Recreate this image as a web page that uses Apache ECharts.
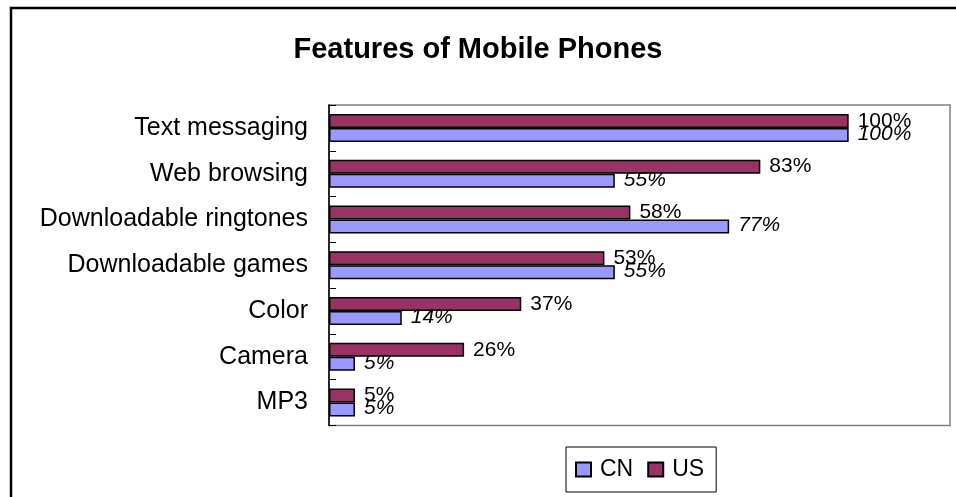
<!DOCTYPE html>
<html>
<head>
<meta charset="utf-8">
<script src="https://cdn.jsdelivr.net/npm/echarts@6/dist/echarts.min.js"></script>
<style>html,body{margin:0;padding:0;background:#fff}#c{width:956px;height:497px}</style>
</head>
<body>
<div id="c"></div>
<script>
// bottom-to-top order
var categories = ['MP3', 'Camera', 'Color', 'Downloadable games', 'Downloadable ringtones', 'Web browsing', 'Text messaging'];
var cnValues = [5, 5, 14, 55, 77, 55, 100];
var usValues = [5, 26, 37, 53, 58, 83, 100];
var titleText = 'Features of Mobile Phones';

var chart = echarts.init(document.getElementById('c'), null, {renderer: 'canvas'});
var F = 'Arial, "Liberation Sans", sans-serif';
chart.setOption({
  animation: false,
  backgroundColor: '#fff',
  title: {
    text: titleText, left: 'center', top: 30,
    textStyle: {fontFamily: F, fontSize: 29, fontWeight: 'bold', color: '#000'}
  },
  graphic: [{
    type: 'rect', shape: {x: 11, y: 8, width: 1000, height: 1000},
    style: {fill: 'none', stroke: '#000', lineWidth: 2.5}, silent: true
  }],
  legend: {
    data: ['CN', 'US'], left: 566, top: 447,
    orient: 'horizontal',
    padding: [11, 12, 11, 9],
    itemGap: 14, itemWidth: 15, itemHeight: 14,
    borderColor: '#000', borderWidth: 1,
    icon: 'rect',
    textStyle: {fontFamily: F, fontSize: 23, color: '#000', padding: [0, 0, 0, 4]}
  },
  grid: {
    left: 329, top: 105, right: 6, bottom: 71.5,
    show: true, borderColor: '#808080', borderWidth: 1.5, containLabel: false
  },
  xAxis: {
    type: 'value', min: 0, max: 119.5,
    show: true,
    axisLine: {show: false}, axisTick: {show: false}, axisLabel: {show: false}, splitLine: {show: false}
  },
  yAxis: {
    type: 'category', data: categories,
    axisLine: {show: true, lineStyle: {color: '#000', width: 1.5}},
    axisTick: {show: true, inside: true, length: 7, lineStyle: {color: '#000', width: 1}},
    axisLabel: {fontFamily: F, fontSize: 25, color: '#000', margin: 21},
    splitLine: {show: false}
  },
  series: [
    {
      name: 'US', type: 'bar', data: usValues, barWidth: 14, barGap: '0%',
      itemStyle: {color: '#993366', borderColor: '#000', borderWidth: 1.5},
      label: {show: true, position: 'right', distance: 9, formatter: '{c}%',
        fontFamily: F, fontSize: 21, color: '#000', offset: [0, 0]}
    },
    {
      name: 'CN', type: 'bar', data: cnValues, barWidth: 14, barGap: '0%',
      itemStyle: {color: '#9999FF', borderColor: '#000', borderWidth: 1.5},
      label: {show: true, position: 'right', distance: 9, formatter: '{c}%',
        fontFamily: F, fontSize: 21, fontStyle: 'italic', color: '#000', offset: [0, -1]}
    }
  ]
});
</script>
</body>
</html>
